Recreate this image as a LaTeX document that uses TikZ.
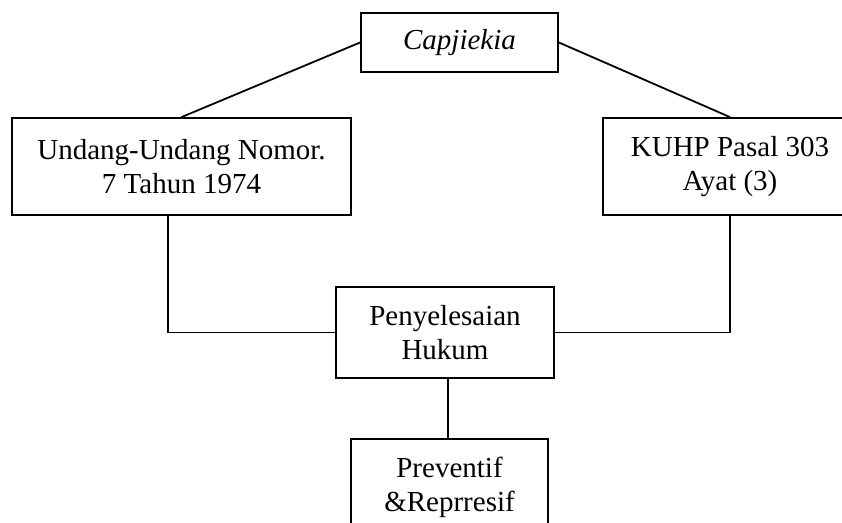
\documentclass[tikz,border=0pt]{standalone}
\usepackage{fontspec}
\setmainfont{Liberation Serif}
\usetikzlibrary{positioning}
\usetikzlibrary{calc}

\begin{document}
\begin{tikzpicture}[x=1pt, y=-1pt,
  kotak/.style={draw, rectangle, line width=1.8pt, fill=white, inner sep=0pt, align=center, font=\fontsize{29}{34}\selectfont},
  garis/.style={line width=1.8pt}]
\useasboundingbox (0,0) rectangle (842,522);
\clip (0,0) rectangle (842,522);
\node[kotak, minimum width=197pt, minimum height=59pt] (cap) at (459.5, 42.5) {\textit{Capjiekia}};
\node[kotak, minimum width=339pt, minimum height=97pt] (uu) at (181.5, 166.5) {Undang-Undang Nomor.\\7 Tahun 1974};
\node[kotak, minimum width=254pt, minimum height=97pt] (kuhp) at (730, 166.5) {KUHP Pasal 303\\Ayat (3)};
\node[kotak, minimum width=218pt, minimum height=91pt] (hukum) at (445, 332.5) {Penyelesaian\\Hukum};
\node[kotak, minimum width=197pt, minimum height=97pt] (prev) at (449.5, 487.5) {Preventif\\\&Reprresif};
\draw[garis] (cap.west) -- (uu.north);
\draw[garis] (cap.east) -- (kuhp.north);
\draw[garis] ([xshift=-13.5pt]uu.south) |- (hukum.west);
\draw[garis] (kuhp.south) |- (hukum.east);
\draw[garis] ([xshift=3pt]hukum.south) -- ([xshift=-1.5pt]prev.north);
\end{tikzpicture}
\end{document}
